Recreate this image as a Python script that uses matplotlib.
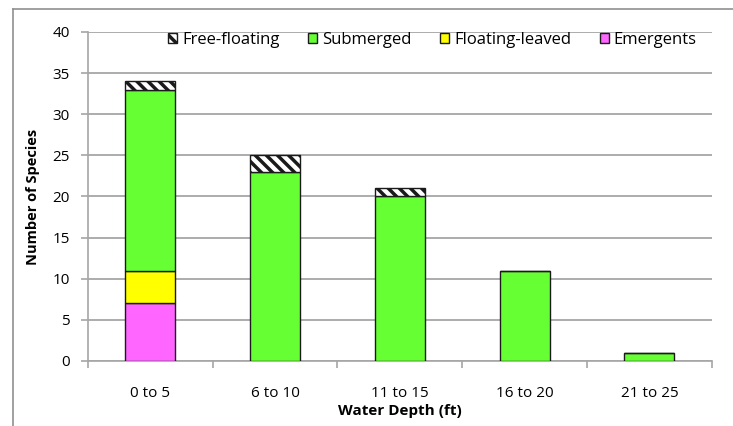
import matplotlib.pyplot as plt
import numpy as np
from matplotlib.lines import Line2D

depths = ["0 to 5", "6 to 10", "11 to 15", "16 to 20", "21 to 25"]
emergents = [7, 0, 0, 0, 0]
floating_leaved = [4, 0, 0, 0, 0]
submerged = [22, 23, 20, 11, 1]
free_floating = [1, 2, 1, 0, 0]

plt.rcParams['font.family'] = ['Open Sans', 'DejaVu Sans']
plt.rcParams['hatch.linewidth'] = 2.5

fig = plt.figure(figsize=(7.33, 4.26), dpi=100)
ax = fig.add_axes([0.12, 0.1526, 0.851, 0.7724])

x = np.arange(len(depths))
w = 0.4
edge = dict(edgecolor='#1a1a1a', linewidth=1.0, zorder=3)

b0 = np.zeros(len(depths))
ax.bar(x, emergents, w, bottom=b0, color='#ff66ff', label='Emergents', **edge)
b0 += emergents
ax.bar(x, floating_leaved, w, bottom=b0, color='#ffff00', label='Floating-leaved', **edge)
b0 += floating_leaved
ax.bar(x, submerged, w, bottom=b0, color='#66ff33', label='Submerged', **edge)
b0 += submerged
ax.bar(x, free_floating, w, bottom=b0, color='white', hatch='\\\\\\', label='Free-floating', **edge)

ax.set_xlim(-0.5, len(depths) - 0.5)
ax.set_ylim(0, 40)
ax.set_yticks(range(0, 41, 5))
ax.yaxis.grid(True, color='#a6a6a6', linewidth=1.3)
ax.set_axisbelow(True)

ax.set_xticks(x)
ax.set_xticklabels(depths)
ax.set_xticks(np.arange(-0.5, len(depths), 1), minor=True)
ax.tick_params(axis='x', which='major', length=0, pad=18, labelsize=11)
ax.tick_params(axis='x', which='minor', length=5, color='#a6a6a6', width=1.2)
ax.tick_params(axis='y', length=5, color='#a6a6a6', width=1.2, labelsize=11, pad=8)

for s in ['top', 'right']:
    ax.spines[s].set_visible(False)
for s in ['left', 'bottom']:
    ax.spines[s].set_color('#a6a6a6')
    ax.spines[s].set_linewidth(1.2)

ax.set_ylabel('Number of Species', fontsize=10.5, fontweight='bold', labelpad=9)
ax.set_xlabel('Water Depth (ft)', fontsize=11, fontweight='bold', labelpad=2)

handles, labels = ax.get_legend_handles_labels()
leg = ax.legend(handles[::-1], labels[::-1], ncol=4, frameon=False, fontsize=12,
                loc='upper right', bbox_to_anchor=(1.0, 1.045),
                handlelength=0.55, handleheight=0.55, handletextpad=0.3,
                columnspacing=1.7)

# outer chart frame (clipped)
fig.add_artist(Line2D([13 / 733, 13 / 733], [0, 1 - 9 / 426], color='#909090', linewidth=1.2))
fig.add_artist(Line2D([13 / 733, 1], [1 - 9 / 426, 1 - 9 / 426], color='#909090', linewidth=1.2))

fig.savefig('out.png', dpi=100)
